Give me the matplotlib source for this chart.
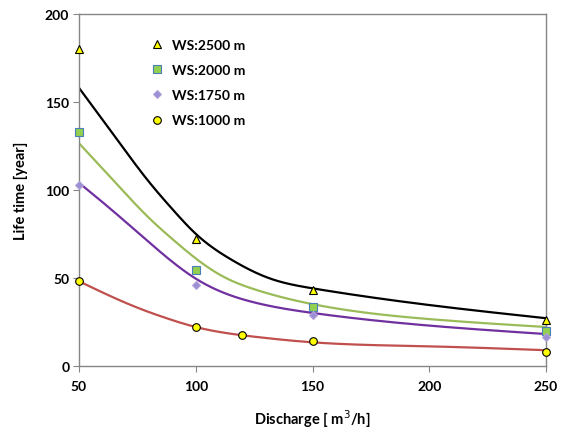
import numpy as np
import matplotlib
matplotlib.use("Agg")
import matplotlib.pyplot as plt

# measured points
x_2500 = [50, 100, 150, 250]
y_2500 = [180, 72, 43, 26]
x_2000 = [50, 100, 150, 250]
y_2000 = [133, 54.5, 33.5, 19.5]
x_1750 = [50, 100, 150, 250]
y_1750 = [103, 46, 29, 16.5]
x_1000 = [50, 100, 120, 150, 250]
y_1000 = [48, 22, 17.3, 14, 8]

# fitted curve values
fx_2500 = [50, 65, 80, 90, 100, 115, 132, 150, 200, 250]
fy_2500 = [158, 131, 104.5, 89, 75, 60.5, 49.5, 44, 34.5, 27]
fx_2000 = [50, 65, 80, 90, 100, 112, 125, 150, 200, 250]
fy_2000 = [126.5, 105, 84, 72, 61, 50.5, 43.5, 35, 26.5, 22]
fx_1750 = [50, 64, 80, 100, 125, 150, 200, 250]
fy_1750 = [104, 88.6, 70.2, 49.5, 36, 30, 22.8, 18]
fx_1000 = [50, 75, 87.5, 100, 125, 150, 200, 250]
fy_1000 = [48, 33, 27, 22, 16.5, 13.3, 11, 8.8]

labels = ["WS:2500 m", "WS:2000 m", "WS:1750 m", "WS:1000 m"]
x_ticks = [50, 100, 150, 200, 250]
y_ticks = [0, 50, 100, 150, 200]


def natural_spline(x, y, xs):
    x = np.asarray(x, float); y = np.asarray(y, float)
    n = len(x); h = np.diff(x)
    A = np.zeros((n, n)); b = np.zeros(n)
    A[0, 0] = 1; A[-1, -1] = 1
    for i in range(1, n - 1):
        A[i, i - 1] = h[i - 1]; A[i, i] = 2 * (h[i - 1] + h[i]); A[i, i + 1] = h[i]
        b[i] = 6 * ((y[i + 1] - y[i]) / h[i] - (y[i] - y[i - 1]) / h[i - 1])
    M = np.linalg.solve(A, b)
    idx = np.clip(np.searchsorted(x, xs) - 1, 0, n - 2)
    x0 = x[idx]; x1 = x[idx + 1]; hh = h[idx]
    return (M[idx] * (x1 - xs) ** 3 / (6 * hh) + M[idx + 1] * (xs - x0) ** 3 / (6 * hh)
            + (y[idx] / hh - M[idx] * hh / 6) * (x1 - xs)
            + (y[idx + 1] / hh - M[idx + 1] * hh / 6) * (xs - x0))


plt.rcParams['font.family'] = ['Lato', 'DejaVu Sans']
fig = plt.figure(figsize=(5.65, 4.31), dpi=100)
ax = fig.add_axes([79 / 565, 1 - 366.7 / 431, (546 - 79) / 565, (366.7 - 15) / 431])

xs = np.linspace(50, 250, 600)
ax.plot(xs, natural_spline(fx_2500, fy_2500, xs), color='black', lw=1.6, zorder=2)
ax.plot(xs, natural_spline(fx_2000, fy_2000, xs), color='#9BBB59', lw=1.6, zorder=2)
ax.plot(xs, natural_spline(fx_1750, fy_1750, xs), color='#7030A0', lw=1.6, zorder=2)
ax.plot(xs, natural_spline(fx_1000, fy_1000, xs), color='#C0504D', lw=1.6, zorder=2)

ax.plot(x_2500, y_2500, ls='none', marker='^', ms=5.5, mfc='#FFFF00', mec='black', mew=0.8,
        label=labels[0], zorder=3, clip_on=False)
ax.plot(x_2000, y_2000, ls='none', marker='s', ms=5.5, mfc='#92D050', mec='#4A7EBB', mew=0.8,
        label=labels[1], zorder=3, clip_on=False)
ax.plot(x_1750, y_1750, ls='none', marker='D', ms=4.5, mfc='#9B8FD6', mec='#B3A2D7', mew=0.8,
        label=labels[2], zorder=3, clip_on=False)
ax.plot(x_1000, y_1000, ls='none', marker='o', ms=5.5, mfc='#FFFF00', mec='black', mew=0.8,
        label=labels[3], zorder=3, clip_on=False)

ax.set_xlim(50, 250)
ax.set_ylim(0, 200)
ax.set_xticks(x_ticks)
ax.set_yticks(y_ticks)
for s in ax.spines.values():
    s.set_color('#868686')
    s.set_linewidth(1.0)
ax.tick_params(direction='out', length=4, color='#868686', labelsize=10, pad=3)
for lab in ax.get_xticklabels() + ax.get_yticklabels():
    lab.set_fontweight('bold')
ax.tick_params(axis='x', pad=6)

ax.set_xlabel('Discharge [ m$^3$/h]', fontsize=10.5, fontweight='bold', labelpad=11)
ax.set_ylabel('Life time [year]', fontsize=10.5, fontweight='bold', labelpad=12)

leg = ax.legend(loc='upper left', bbox_to_anchor=(0.14, 0.945), frameon=False,
                prop={'weight': 'bold', 'size': 10}, handlelength=1.0, handletextpad=0.6,
                labelspacing=0.95, borderaxespad=0)

fig.savefig('out.png', dpi=100)
